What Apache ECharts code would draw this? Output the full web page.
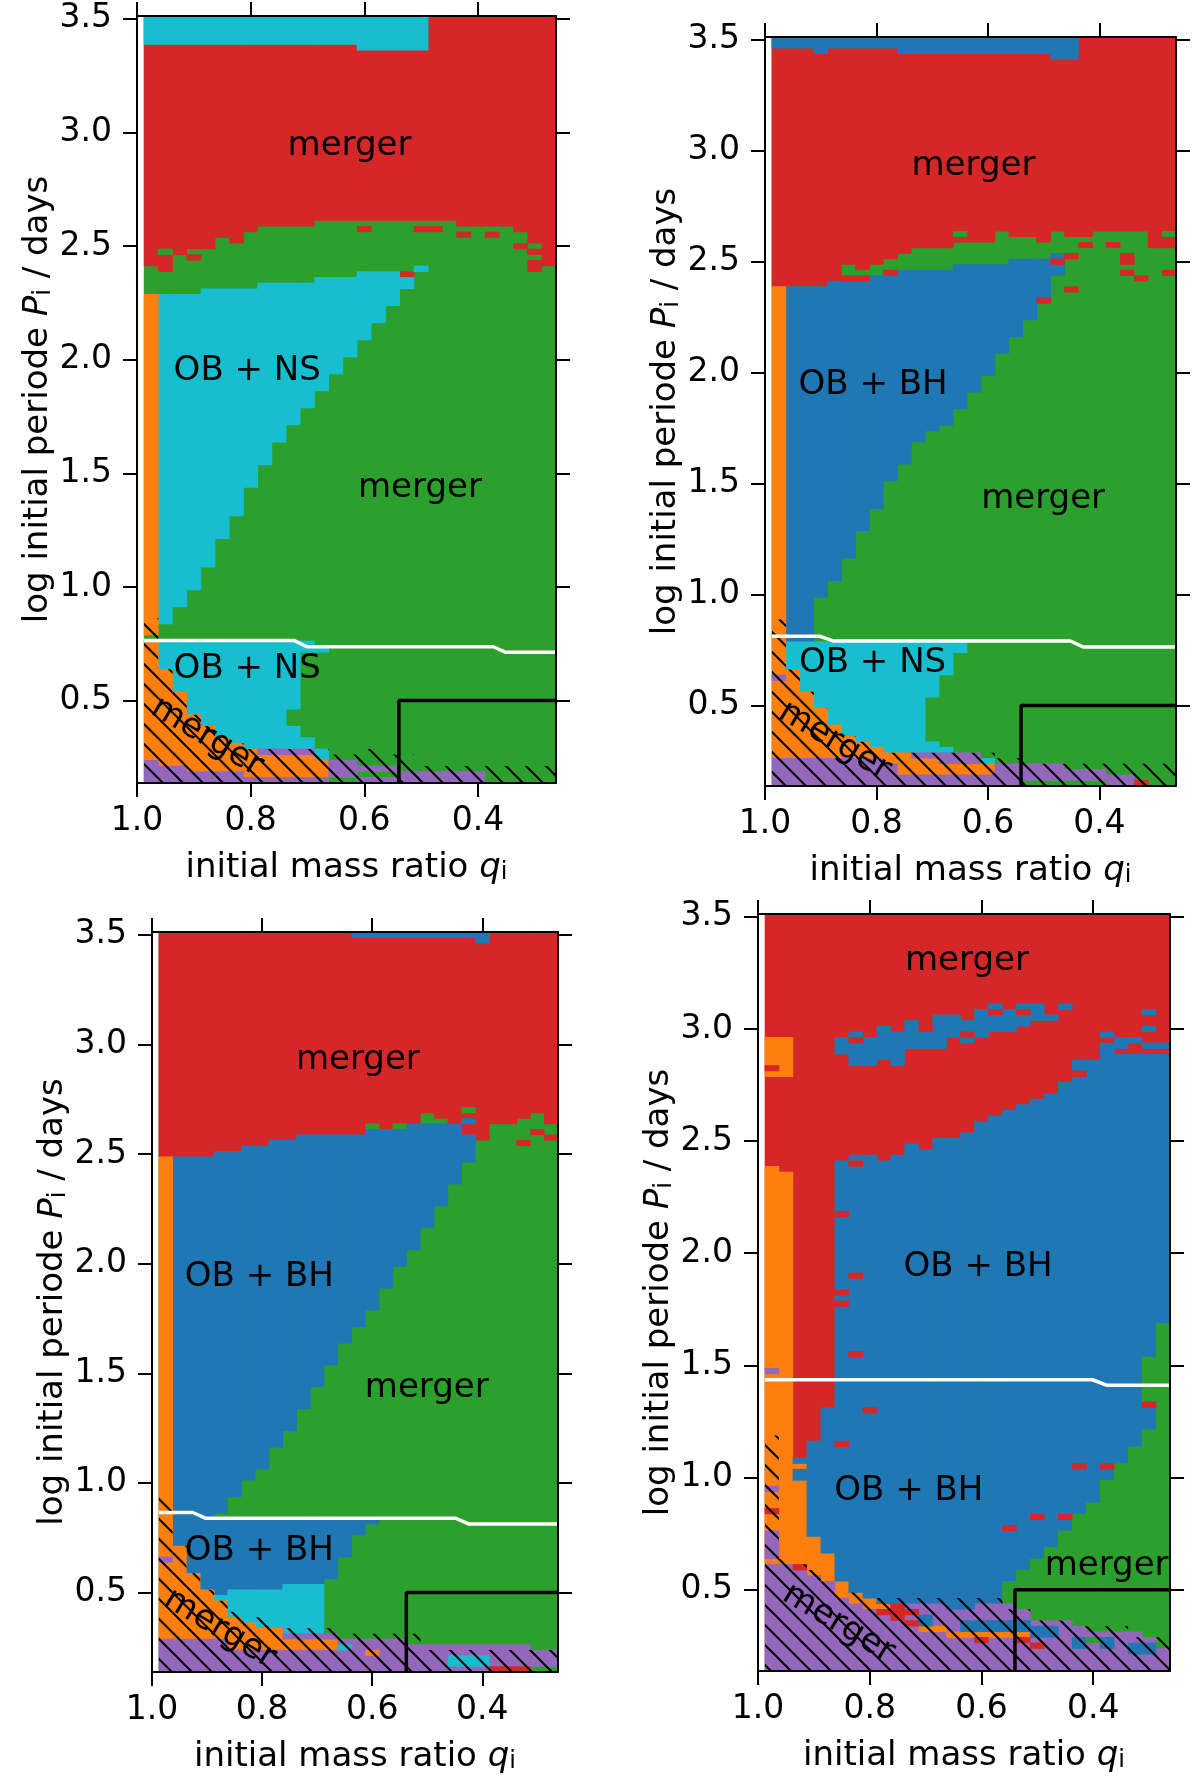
<!DOCTYPE html>
<html>
<head>
<meta charset="utf-8">
<script src="https://cdn.jsdelivr.net/npm/echarts@6/dist/echarts.min.js"></script>
<style>
html, body { margin: 0; padding: 0; background: #fff; }
#box { width: 1200px; height: 1779px; }
</style>
</head>
<body>
<div id="box"></div>
<script>
// model grid: columns of q (step 0.025), rows of log P (step 0.025)
var Q_LEFT = 0.9875, Q_STEP = 0.025;
var Q_MIN = 0.2625, Q_MAX = 1.0, P_MIN = 0.1375, P_MAX = 3.5125;
var qTicks = [1.0, 0.8, 0.6, 0.4];
var pTicks = [0.5, 1.0, 1.5, 2.0, 2.5, 3.0, 3.5];

var COLORS = ['#2ca02c', '#d62728', '#1f77b4', '#17becf', '#ff7f0e', '#9467bd'];
var GREEN = 0, RED = 1, BLUE = 2, CYAN = 3, ORANGE = 4, PURPLE = 5;

// runs of cells: [first column, last column, log P low, log P high]
// ---- panel 1 (OB + NS) ----
var p1Green = [[0, 28, 0.1375, 3.5125]];
var p1Red = [[0, 0, 2.4125, 3.5125], [1, 1, 2.3875, 3.5125], [2, 2, 2.4625, 3.5125], [3, 4, 2.4875, 3.5125],
    [5, 5, 2.5375, 3.5125], [6, 6, 2.5125, 3.5125], [7, 7, 2.5625, 3.5125], [8, 11, 2.5875, 3.5125],
    [12, 21, 2.6125, 3.5125], [22, 25, 2.5875, 3.5125], [26, 26, 2.5625, 3.5125], [27, 27, 2.5125, 3.5125],
    [28, 28, 2.4125, 3.5125]];
var p1GreenSpots = [[1, 1, 2.4625, 2.4875]];
var p1RedSpots = [[3, 3, 2.4375, 2.4625], [15, 15, 2.5625, 2.5875], [19, 20, 2.5625, 2.5875], [22, 22, 2.5375, 2.5625],
    [24, 24, 2.5375, 2.5625], [26, 26, 2.4875, 2.5125], [27, 27, 2.4625, 2.4875], [27, 27, 2.3875, 2.4375],
    [18, 18, 2.3625, 2.3875]];
var p1Cyan = [[0, 14, 3.3875, 3.5125], [15, 19, 3.3625, 3.5125],
    [1, 1, 0.8375, 2.2875], [2, 2, 0.9125, 2.2875], [3, 3, 0.9875, 2.2875], [4, 4, 1.0875, 2.3125],
    [5, 5, 1.2125, 2.3125], [6, 6, 1.3125, 2.3125], [7, 7, 1.4375, 2.3125], [8, 8, 1.5375, 2.3375],
    [9, 9, 1.6375, 2.3375], [10, 10, 1.7125, 2.3375], [11, 11, 1.7875, 2.3375], [12, 12, 1.8625, 2.3625],
    [13, 13, 1.9375, 2.3625], [14, 14, 2.0125, 2.3625], [15, 15, 2.0875, 2.3875], [16, 16, 2.1625, 2.3875],
    [17, 17, 2.2375, 2.3875], [18, 18, 2.3125, 2.3625], [19, 19, 2.3875, 2.4125],
    [1, 1, 0.6375, 0.7625], [2, 2, 0.5375, 0.7625], [3, 3, 0.4375, 0.7625], [4, 4, 0.3875, 0.7625],
    [5, 5, 0.3375, 0.7625], [6, 6, 0.3125, 0.7625], [7, 9, 0.2875, 0.7625], [10, 10, 0.4625, 0.7625],
    [10, 10, 0.2875, 0.3875], [11, 11, 0.7125, 0.7625], [11, 11, 0.2875, 0.3375], [12, 12, 0.7125, 0.7375],
    [12, 12, 0.2375, 0.2875]];
var p1Orange = [[0, 0, 0.7875, 2.2875], [0, 0, 0.2375, 0.7625], [1, 1, 0.2125, 0.6375], [2, 2, 0.2125, 0.5375],
    [3, 3, 0.1875, 0.4375], [4, 4, 0.1875, 0.3875], [5, 5, 0.1875, 0.3375], [6, 6, 0.1875, 0.3125],
    [7, 7, 0.1625, 0.2875], [8, 11, 0.1625, 0.2625], [12, 12, 0.1625, 0.2375]];
var p1Purple = [[0, 0, 0.1375, 0.2375], [1, 2, 0.1375, 0.2125], [3, 6, 0.1375, 0.1875], [7, 12, 0.1375, 0.1625],
    [8, 11, 0.2625, 0.2875], [13, 14, 0.1625, 0.2375], [15, 17, 0.1875, 0.2125], [15, 17, 0.1375, 0.1625],
    [18, 23, 0.1375, 0.1875]];
var p1Hatch = [[0, 0, 0.1375, 0.8625], [1, 1, 0.1375, 0.6375], [2, 2, 0.1375, 0.5375], [3, 3, 0.1375, 0.4375],
    [4, 4, 0.1375, 0.3875], [5, 5, 0.1375, 0.3375], [6, 6, 0.1375, 0.3125], [7, 12, 0.1375, 0.2875],
    [13, 18, 0.1375, 0.2625], [15, 16, 0.2625, 0.2875], [19, 28, 0.1375, 0.2125]];
var p1White = [[0.9875, 0.765], [0.724, 0.765], [0.701, 0.737], [0.373, 0.737], [0.352, 0.713], [0.2625, 0.713]];
var p1Box = [[0.539, 0.1375], [0.539, 0.5], [0.2625, 0.5]];
var p1Labels = [['merger', 0.626, 2.94], ['OB + NS', 0.806, 1.95], ['merger', 0.502, 1.435], ['OB + NS', 0.806, 0.64]];
var p1HatchLabel = [['merger', 0.877, 0.34]];

// ---- panel 2 (OB + BH, OB + NS) ----
var p2Green = [[0, 28, 0.1375, 3.5125]];
var p2Red = [[0, 3, 2.3875, 3.5125], [4, 4, 2.4125, 3.5125], [5, 5, 2.4875, 3.5125], [6, 6, 2.4625, 3.5125],
    [7, 7, 2.4875, 3.5125], [8, 8, 2.5125, 3.5125], [9, 9, 2.5375, 3.5125], [10, 12, 2.5625, 3.5125],
    [13, 15, 2.5875, 3.5125], [16, 16, 2.6375, 3.5125], [17, 18, 2.6125, 3.5125], [19, 19, 2.5875, 3.5125],
    [20, 20, 2.6375, 3.5125], [21, 22, 2.6125, 3.5125], [23, 26, 2.6375, 3.5125], [27, 28, 2.5625, 3.5125]];
var p2GreenSpots = [[13, 13, 2.6125, 2.6375], [28, 28, 2.6125, 2.6375]];
var p2BlueTop = [[0, 2, 3.4625, 3.5125], [3, 3, 3.4375, 3.5125], [4, 8, 3.4625, 3.5125], [9, 19, 3.4375, 3.5125],
    [20, 21, 3.4125, 3.5125]];
var p2Blue = [[1, 2, 0.7875, 2.3875], [3, 3, 0.9875, 2.3875], [4, 4, 1.0625, 2.4125], [5, 5, 1.1625, 2.4125],
    [6, 6, 1.2875, 2.4125], [7, 7, 1.3875, 2.4375], [8, 8, 1.5125, 2.4375], [9, 9, 1.5875, 2.4625],
    [10, 10, 1.6875, 2.4625], [11, 11, 1.7375, 2.4625], [12, 12, 1.7625, 2.4625], [13, 13, 1.8375, 2.4875],
    [14, 14, 1.9125, 2.4875], [15, 15, 1.9875, 2.4875], [16, 16, 2.0875, 2.4875], [17, 17, 2.1625, 2.5125],
    [18, 18, 2.2375, 2.5125], [19, 19, 2.3375, 2.5125], [20, 20, 2.4375, 2.4875], [20, 20, 2.5125, 2.5375]];
var p2Cyan = [[1, 1, 0.6625, 0.7875], [2, 2, 0.5625, 0.7875], [3, 3, 0.4875, 0.7875], [4, 4, 0.4125, 0.7875],
    [5, 5, 0.3625, 0.7875], [6, 6, 0.3375, 0.7875], [7, 7, 0.3125, 0.7875], [8, 10, 0.2875, 0.7875],
    [11, 11, 0.5375, 0.7875], [11, 11, 0.2875, 0.3375], [12, 12, 0.6375, 0.7875], [12, 12, 0.2875, 0.3125],
    [13, 13, 0.7375, 0.7875], [15, 15, 0.2375, 0.2625]];
var p2Orange = [[0, 0, 0.2625, 2.3875], [1, 1, 0.2625, 0.6625], [2, 2, 0.2625, 0.5625], [3, 3, 0.2625, 0.4875],
    [4, 4, 0.2625, 0.4125], [5, 5, 0.2625, 0.3625], [6, 6, 0.2625, 0.3375], [7, 7, 0.2625, 0.3125],
    [8, 8, 0.2375, 0.2875], [9, 9, 0.1875, 0.2875], [10, 11, 0.1875, 0.2625], [12, 15, 0.1875, 0.2375]];
var p2Purple = [[0, 0, 0.6125, 0.6375], [0, 7, 0.1375, 0.2625], [8, 8, 0.1375, 0.2375], [9, 15, 0.1375, 0.1875],
    [10, 11, 0.2625, 0.2875], [12, 14, 0.2375, 0.2875], [16, 17, 0.1375, 0.2375], [18, 20, 0.1625, 0.2375],
    [21, 23, 0.1625, 0.2125], [24, 25, 0.1375, 0.1875]];
var p2RedSpots = [[5, 6, 2.4125, 2.4375], [8, 8, 2.4375, 2.4625], [19, 19, 2.3125, 2.3375], [20, 20, 2.4875, 2.5125],
    [21, 21, 2.5125, 2.5375], [21, 21, 2.3625, 2.3875], [22, 22, 2.5625, 2.5875], [24, 24, 2.5625, 2.5875],
    [25, 25, 2.4875, 2.5375], [25, 25, 2.4375, 2.4625], [26, 26, 2.4125, 2.4375], [28, 28, 2.4375, 2.4625],
    [26, 26, 0.1375, 0.1625]];
var p2Hatch = [[0, 0, 0.1375, 0.8875], [1, 1, 0.1375, 0.6625], [2, 2, 0.1375, 0.5625], [3, 3, 0.1375, 0.4875],
    [4, 4, 0.1375, 0.4125], [5, 5, 0.1375, 0.3625], [6, 6, 0.1375, 0.3375], [7, 7, 0.1375, 0.3125],
    [8, 15, 0.1375, 0.2875], [16, 18, 0.1375, 0.2625], [19, 28, 0.1375, 0.2375]];
var p2White = [[0.9875, 0.812], [0.901, 0.812], [0.878, 0.791], [0.452, 0.791], [0.429, 0.764], [0.2625, 0.764]];
var p2Box = [[0.5405, 0.1375], [0.5405, 0.5], [0.2625, 0.5]];
var p2Labels = [['merger', 0.626, 2.93], ['OB + BH', 0.806, 1.945], ['merger', 0.501, 1.432], ['OB + NS', 0.807, 0.69]];
var p2HatchLabel = [['merger', 0.875, 0.34]];

// ---- panel 3 (OB + BH) ----
var p3Green = [[0, 28, 0.1375, 3.5125]];
var p3Red = [[0, 3, 2.4875, 3.5125], [4, 5, 2.5125, 3.5125], [6, 7, 2.5375, 3.5125], [8, 9, 2.5625, 3.5125],
    [10, 14, 2.5875, 3.5125], [15, 15, 2.6375, 3.5125], [16, 16, 2.6125, 3.5125], [17, 18, 2.6375, 3.5125],
    [19, 19, 2.6875, 3.5125], [20, 20, 2.6625, 3.5125], [21, 21, 2.6375, 3.5125], [22, 22, 2.5875, 3.5125],
    [23, 23, 2.5625, 3.5125], [24, 25, 2.6375, 3.5125], [26, 26, 2.6625, 3.5125], [27, 27, 2.6875, 3.5125],
    [28, 28, 2.6375, 3.5125]];
var p3GreenSpots = [[15, 15, 2.6125, 2.6375], [17, 17, 2.6125, 2.6375], [22, 22, 2.6875, 2.7125]];
var p3BlueTop = [[14, 23, 3.4875, 3.5125], [23, 23, 3.4625, 3.4875]];
var p3Blue = [[1, 1, 0.7125, 2.4875], [2, 2, 0.5875, 2.4875], [3, 3, 0.5125, 2.4875], [4, 4, 0.8625, 2.5125],
    [5, 5, 0.9375, 2.5125], [6, 6, 1.0125, 2.5375], [7, 7, 1.0625, 2.5375], [8, 8, 1.1625, 2.5625],
    [9, 9, 1.2375, 2.5625], [10, 10, 1.3375, 2.5875], [11, 11, 1.4375, 2.5875], [12, 12, 1.5375, 2.5875],
    [13, 13, 1.6375, 2.5875], [14, 14, 1.7125, 2.5875], [15, 15, 1.7875, 2.6125], [16, 16, 1.8875, 2.6125],
    [17, 17, 1.9875, 2.6125], [18, 18, 2.0625, 2.6375], [19, 19, 2.1625, 2.6375], [20, 20, 2.2625, 2.6375],
    [21, 21, 2.3625, 2.6375], [22, 22, 2.4625, 2.5875], [22, 22, 2.6375, 2.6625],
    [4, 4, 0.4875, 0.8375], [5, 8, 0.5125, 0.8375], [9, 11, 0.5375, 0.8375], [12, 12, 0.5625, 0.8375],
    [13, 13, 0.6625, 0.8375], [14, 14, 0.7625, 0.8375], [15, 15, 0.8125, 0.8375]];
var p3Cyan = [[4, 4, 0.4625, 0.4875], [5, 5, 0.3875, 0.5125], [6, 6, 0.3625, 0.5125], [7, 8, 0.3375, 0.5125],
    [9, 11, 0.3125, 0.5375]];
var p3Orange = [[0, 0, 0.2875, 2.4875], [1, 1, 0.2875, 0.7125], [2, 2, 0.2875, 0.5875], [3, 3, 0.2875, 0.5125],
    [4, 4, 0.2625, 0.4625], [5, 5, 0.2375, 0.3875], [6, 6, 0.2375, 0.3625], [7, 8, 0.2375, 0.3375],
    [9, 12, 0.2375, 0.2875]];
var p3Purple = [[0, 0, 0.6375, 0.6625], [0, 4, 0.1375, 0.2875], [5, 12, 0.1375, 0.2375], [9, 12, 0.2875, 0.3125],
    [13, 17, 0.1375, 0.2875], [18, 26, 0.1375, 0.2625], [27, 28, 0.1625, 0.2375]];
var p3CyanSpots = [[13, 13, 0.2375, 0.2625], [21, 23, 0.1625, 0.2125]];
var p3OrangeSpots = [[15, 15, 0.2125, 0.2375]];
var p3RedSpots = [[26, 26, 2.5375, 2.5625], [27, 27, 2.5875, 2.6125], [28, 28, 2.5625, 2.5875], [24, 26, 0.1375, 0.1625]];
var p3Hatch = [[0, 0, 0.1375, 0.9375], [1, 1, 0.1375, 0.7125], [2, 2, 0.1375, 0.5875], [3, 3, 0.1375, 0.5125],
    [4, 4, 0.1375, 0.4625], [5, 5, 0.1375, 0.4125], [6, 7, 0.1375, 0.3875], [8, 12, 0.1375, 0.3375],
    [13, 18, 0.1375, 0.3125], [19, 28, 0.1375, 0.2375]];
var p3White = [[0.9875, 0.865], [0.926, 0.865], [0.903, 0.839], [0.449, 0.839], [0.425, 0.813], [0.2625, 0.813]];
var p3Box = [[0.538, 0.1375], [0.538, 0.5], [0.2625, 0.5]];
var p3Labels = [['merger', 0.626, 2.93], ['OB + BH', 0.805, 1.94], ['merger', 0.501, 1.432], ['OB + BH', 0.805, 0.69]];
var p3HatchLabel = [['merger', 0.877, 0.335]];

// ---- panel 4 (OB + BH, wide) ----
var p4Red = [[0, 28, 0.1375, 3.5125]];
var p4Orange = [[0, 1, 2.7875, 2.9625], [0, 0, 0.6125, 2.3875], [1, 1, 0.6125, 2.3625], [2, 2, 0.6125, 0.9875],
    [2, 2, 1.0375, 1.0625], [3, 3, 0.5625, 0.7375], [4, 4, 0.5375, 0.6625], [5, 5, 0.4625, 0.5375],
    [6, 6, 0.4375, 0.4875], [7, 7, 0.4125, 0.4625], [8, 8, 0.4125, 0.4375]];
var p4Blue = [[2, 2, 0.9875, 1.0375], [2, 2, 1.0625, 1.0875], [3, 3, 0.7375, 1.1625], [4, 4, 0.6625, 1.3125],
    [5, 5, 0.5375, 2.4125], [6, 6, 0.4875, 2.4375], [7, 7, 0.4625, 2.4375], [8, 8, 0.4375, 2.4125],
    [9, 9, 0.4375, 2.4375], [10, 10, 0.4375, 2.4875], [11, 11, 0.4375, 2.4625], [12, 13, 0.4375, 2.5125],
    [14, 14, 0.4375, 2.5375], [15, 15, 0.4375, 2.5875], [16, 16, 0.4375, 2.6125], [17, 17, 0.5375, 2.6375],
    [18, 18, 0.5875, 2.6625], [19, 19, 0.6375, 2.6875], [20, 20, 0.6875, 2.7125], [21, 21, 0.7625, 2.7625],
    [22, 22, 0.8375, 2.8625], [23, 23, 0.8875, 2.8625], [24, 24, 0.9875, 2.9375], [25, 25, 1.0625, 2.8875],
    [26, 26, 1.1375, 2.8875], [27, 27, 1.2125, 2.8875], [28, 28, 1.6875, 2.8875]];
var p4Ribbon = [[5, 5, 2.8875, 2.9625], [6, 6, 2.8375, 2.9875], [7, 7, 2.8375, 2.9625], [8, 8, 2.8625, 3.0125],
    [9, 9, 2.8375, 2.9875], [10, 10, 2.9125, 3.0375], [11, 11, 2.9125, 3.0125], [12, 12, 2.9125, 3.0625],
    [13, 13, 2.9625, 3.0625], [14, 14, 2.9375, 3.0375], [15, 15, 2.9625, 3.0875], [16, 16, 2.9875, 3.1125],
    [17, 17, 2.9875, 3.0875], [18, 18, 3.0125, 3.1125], [19, 19, 3.0375, 3.1125], [20, 20, 3.0375, 3.0625],
    [21, 21, 3.0875, 3.1125], [24, 24, 2.9625, 2.9875], [25, 25, 2.9125, 2.9625], [26, 26, 2.9375, 2.9625],
    [27, 27, 3.0625, 3.0875], [27, 27, 2.9875, 3.0125], [27, 27, 2.9125, 2.9375], [28, 28, 2.9125, 2.9375]];
var p4Green = [[17, 17, 0.4375, 0.5375], [18, 18, 0.4125, 0.5875], [19, 19, 0.3625, 0.6375], [20, 20, 0.3625, 0.6875],
    [21, 21, 0.3625, 0.7625], [22, 22, 0.3375, 0.8375], [23, 23, 0.3125, 0.8875], [24, 24, 0.3125, 0.9875],
    [25, 25, 0.3125, 1.0625], [26, 26, 0.3125, 1.1375], [27, 27, 0.2875, 1.2125], [27, 27, 1.3375, 1.5375],
    [28, 28, 0.2375, 1.6875]];
var p4Purple = [[0, 0, 0.6375, 0.7625], [0, 0, 0.9375, 0.9625], [0, 0, 1.4625, 1.4875], [0, 1, 0.1375, 0.6125],
    [2, 2, 0.1375, 0.5875], [3, 3, 0.1375, 0.5625], [4, 4, 0.1375, 0.5375], [5, 5, 0.1375, 0.4625],
    [6, 6, 0.1375, 0.4375], [7, 8, 0.1375, 0.4125], [9, 17, 0.1375, 0.4375], [18, 18, 0.1375, 0.4125],
    [19, 21, 0.1375, 0.3625], [22, 22, 0.1375, 0.3375], [23, 26, 0.1375, 0.3125], [27, 27, 0.1375, 0.2875],
    [28, 28, 0.1375, 0.2375]];
var p4OrangeSpots = [[11, 12, 0.3125, 0.3375], [13, 18, 0.2875, 0.3125]];
var p4BlueSpots = [[13, 14, 0.4125, 0.4375], [11, 11, 0.3375, 0.3875], [14, 18, 0.3125, 0.3625], [19, 20, 0.2875, 0.3375],
    [22, 22, 0.2375, 0.2875], [24, 24, 0.2375, 0.2875], [26, 27, 0.2125, 0.2625]];
var p4GreenSpots = [[23, 23, 0.2625, 0.2875]];
var p4RedSpots = [[2, 2, 0.5875, 0.6125], [8, 8, 0.3875, 0.4125], [9, 9, 0.3625, 0.4375], [10, 10, 0.3875, 0.4125],
    [10, 10, 0.3375, 0.3625], [15, 15, 0.2625, 0.2875], [18, 18, 0.2625, 0.2875], [19, 19, 0.2375, 0.2625],
    [0, 0, 0.8375, 0.8625], [0, 0, 2.8125, 2.8375], [5, 5, 2.1625, 2.1875], [6, 6, 1.8875, 1.9125],
    [5, 5, 1.8125, 1.8375], [5, 5, 1.7625, 1.7875], [6, 6, 1.5375, 1.5625], [7, 7, 1.2875, 1.3125],
    [5, 5, 1.1375, 1.1625], [17, 17, 0.7625, 0.7875], [19, 19, 0.8125, 0.8375], [21, 21, 0.8125, 0.8375],
    [22, 22, 1.0375, 1.0625], [24, 24, 1.0375, 1.0625], [27, 27, 1.3125, 1.3375], [6, 6, 2.9375, 2.9625],
    [11, 11, 2.9875, 3.0125], [14, 14, 2.9625, 2.9875], [16, 16, 3.0625, 3.0875], [18, 18, 3.0625, 3.0875],
    [6, 6, 2.3875, 2.4125], [22, 22, 2.7875, 2.8125]];
var p4Hatch = [[0, 0, 0.1375, 1.1875], [1, 1, 0.1375, 0.6375], [2, 2, 0.1375, 0.6125], [3, 3, 0.1375, 0.5875],
    [4, 4, 0.1375, 0.5375], [5, 6, 0.1375, 0.4875], [7, 16, 0.1375, 0.4625], [17, 18, 0.1375, 0.4125],
    [19, 21, 0.1375, 0.3625], [22, 25, 0.1375, 0.3375], [26, 28, 0.1375, 0.2875]];
var p4White = [[0.9875, 1.436], [0.401, 1.436], [0.375, 1.411], [0.2625, 1.411]];
var p4Box = [[0.54, 0.1375], [0.54, 0.5], [0.2625, 0.5]];
var p4Labels = [['merger', 0.626, 3.30], ['OB + BH', 0.606, 1.94], ['OB + BH', 0.73, 0.94], ['merger', 0.376, 0.605]];
var p4HatchLabel = [['merger', 0.856, 0.35]];

var panels = [
    {
        grid: {left: 137, top: 16, width: 419, height: 767},
        layers: [[GREEN, p1Green], [RED, p1Red], [GREEN, p1GreenSpots], [RED, p1RedSpots], [CYAN, p1Cyan],
            [ORANGE, p1Orange], [PURPLE, p1Purple]],
        hatch: p1Hatch, white: p1White, box: p1Box, labels: p1Labels, hatchLabel: p1HatchLabel
    },
    {
        grid: {left: 765, top: 37, width: 411, height: 749},
        layers: [[GREEN, p2Green], [RED, p2Red], [GREEN, p2GreenSpots], [BLUE, p2BlueTop], [BLUE, p2Blue],
            [CYAN, p2Cyan], [ORANGE, p2Orange], [PURPLE, p2Purple], [RED, p2RedSpots]],
        hatch: p2Hatch, white: p2White, box: p2Box, labels: p2Labels, hatchLabel: p2HatchLabel
    },
    {
        grid: {left: 152, top: 932, width: 406, height: 740},
        layers: [[GREEN, p3Green], [RED, p3Red], [GREEN, p3GreenSpots], [BLUE, p3BlueTop], [BLUE, p3Blue],
            [CYAN, p3Cyan], [ORANGE, p3Orange], [PURPLE, p3Purple], [CYAN, p3CyanSpots],
            [ORANGE, p3OrangeSpots], [RED, p3RedSpots]],
        hatch: p3Hatch, white: p3White, box: p3Box, labels: p3Labels, hatchLabel: p3HatchLabel
    },
    {
        grid: {left: 758, top: 914, width: 412, height: 757},
        layers: [[RED, p4Red], [ORANGE, p4Orange], [BLUE, p4Blue], [BLUE, p4Ribbon], [GREEN, p4Green],
            [PURPLE, p4Purple], [ORANGE, p4OrangeSpots], [BLUE, p4BlueSpots], [GREEN, p4GreenSpots],
            [RED, p4RedSpots]],
        hatch: p4Hatch, white: p4White, box: p4Box, labels: p4Labels, hatchLabel: p4HatchLabel
    }
];

var FONT = 'DejaVu Sans';

// turn column runs into [qRight, qLeft, lo, hi, color]
function toCells(runs, color) {
    return runs.map(function (r) {
        return [Q_LEFT - Q_STEP * (r[1] + 1), Q_LEFT - Q_STEP * r[0], r[2], r[3], color];
    });
}

function makeHatch() {
    var s = 20;
    var cv = document.createElement('canvas');
    cv.width = s;
    cv.height = s;
    var ctx = cv.getContext('2d');
    ctx.strokeStyle = '#000';
    ctx.lineWidth = 2;
    ctx.beginPath();
    for (var k = -1; k <= 1; k++) {
        ctx.moveTo(k * s - 2, -2);
        ctx.lineTo(k * s + s + 2, s + 2);
    }
    ctx.stroke();
    return {image: cv, repeat: 'repeat'};
}
var hatchFill = makeHatch();

function cellRect(api) {
    var a = api.coord([api.value(0), api.value(3)]);
    var b = api.coord([api.value(1), api.value(2)]);
    return {
        x: Math.min(a[0], b[0]) - 0.3,
        y: Math.min(a[1], b[1]) - 0.3,
        width: Math.abs(b[0] - a[0]) + 0.6,
        height: Math.abs(b[1] - a[1]) + 0.6
    };
}

var qName = 'initial mass ratio {it|q}{sub|i}';
var pName = 'log initial periode {it|P}{sub|i} / days';
var nameStyle = {
    fontSize: 34, fontFamily: FONT, color: '#000',
    rich: {
        it: {fontSize: 34, fontFamily: FONT, fontStyle: 'italic', color: '#000'},
        sub: {fontSize: 24, fontFamily: FONT, color: '#000', verticalAlign: 'bottom', lineHeight: 13}
    }
};

var grids = [], xAxes = [], yAxes = [], series = [];
panels.forEach(function (pn, g) {
    grids.push({left: pn.grid.left, top: pn.grid.top, width: pn.grid.width, height: pn.grid.height,
        containLabel: false, outerBoundsMode: 'none'});
    [false, true].forEach(function (top) {
        xAxes.push({
            type: 'value', gridIndex: g, position: top ? 'top' : 'bottom',
            min: Q_MIN, max: Q_MAX, inverse: true, z: 10,
            splitLine: {show: false},
            axisLine: {show: true, onZero: false, lineStyle: {color: '#000', width: 2}},
            axisTick: {show: true, inside: false, length: 14, customValues: qTicks,
                lineStyle: {color: '#000', width: 2}},
            axisLabel: {show: !top, customValues: qTicks, margin: 22, fontSize: 33, fontFamily: FONT,
                color: '#000', formatter: function (v) { return v.toFixed(1); }},
            name: top ? '' : qName, nameLocation: 'middle', nameGap: 68, nameTextStyle: nameStyle
        });
        yAxes.push({
            type: 'value', gridIndex: g, position: top ? 'right' : 'left',
            min: P_MIN, max: P_MAX, z: 10,
            splitLine: {show: false},
            axisLine: {show: true, onZero: false, lineStyle: {color: '#000', width: 2}},
            axisTick: {show: true, inside: false, length: 14, customValues: pTicks,
                lineStyle: {color: '#000', width: 2}},
            axisLabel: {show: !top, customValues: pTicks, margin: 25, fontSize: 33, fontFamily: FONT,
                color: '#000', formatter: function (v) { return v.toFixed(1); }},
            name: top ? '' : pName, nameLocation: 'middle', nameGap: 80, nameTextStyle: nameStyle
        });
    });
    var xi = g * 2, yi = g * 2;

    var cells = [];
    pn.layers.forEach(function (ly) { cells = cells.concat(toCells(ly[1], ly[0])); });
    series.push({
        type: 'custom', xAxisIndex: xi, yAxisIndex: yi, clip: true, silent: true, z: 1,
        encode: {x: [0, 1], y: [2, 3]},
        data: cells,
        renderItem: function (params, api) {
            return {type: 'rect', shape: cellRect(api), style: {fill: COLORS[api.value(4)]}};
        }
    });
    series.push({
        type: 'custom', xAxisIndex: xi, yAxisIndex: yi, clip: true, silent: true, z: 2,
        encode: {x: [0, 1], y: [2, 3]},
        data: toCells(pn.hatch, 0),
        renderItem: function (params, api) {
            var r = cellRect(api);
            return {type: 'rect', shape: {x: r.x + 0.3, y: r.y + 0.3, width: r.width - 0.6, height: r.height - 0.6},
                style: {fill: hatchFill}};
        }
    });
    series.push({
        type: 'line', xAxisIndex: xi, yAxisIndex: yi, data: pn.white, showSymbol: false, silent: true, z: 3,
        lineStyle: {color: '#fff', width: 3.5}
    });
    series.push({
        type: 'line', xAxisIndex: xi, yAxisIndex: yi, data: pn.box, showSymbol: false, silent: true, z: 3,
        lineStyle: {color: '#000', width: 3.5}
    });
    var labels = pn.labels.map(function (l) { return [l[0], l[1], l[2], 0]; })
        .concat(pn.hatchLabel.map(function (l) { return [l[0], l[1], l[2], -31]; }));
    series.push({
        type: 'custom', xAxisIndex: xi, yAxisIndex: yi, silent: true, z: 4,
        encode: {x: 1, y: 2},
        data: labels.map(function (l, i) { return [i, l[1], l[2], l[3]]; }),
        renderItem: function (params, api) {
            var p = api.coord([api.value(1), api.value(2)]);
            return {
                type: 'text', x: p[0], y: p[1], rotation: api.value(3) * Math.PI / 180,
                style: {text: labels[params.dataIndex][0], fill: '#000', fontSize: 34, fontFamily: FONT,
                    align: 'center', verticalAlign: 'middle'}
            };
        }
    });
});

var myChart = echarts.init(document.getElementById('box'));
myChart.setOption({
    animation: false,
    backgroundColor: '#fff',
    grid: grids,
    xAxis: xAxes,
    yAxis: yAxes,
    series: series
});
</script>
</body>
</html>
